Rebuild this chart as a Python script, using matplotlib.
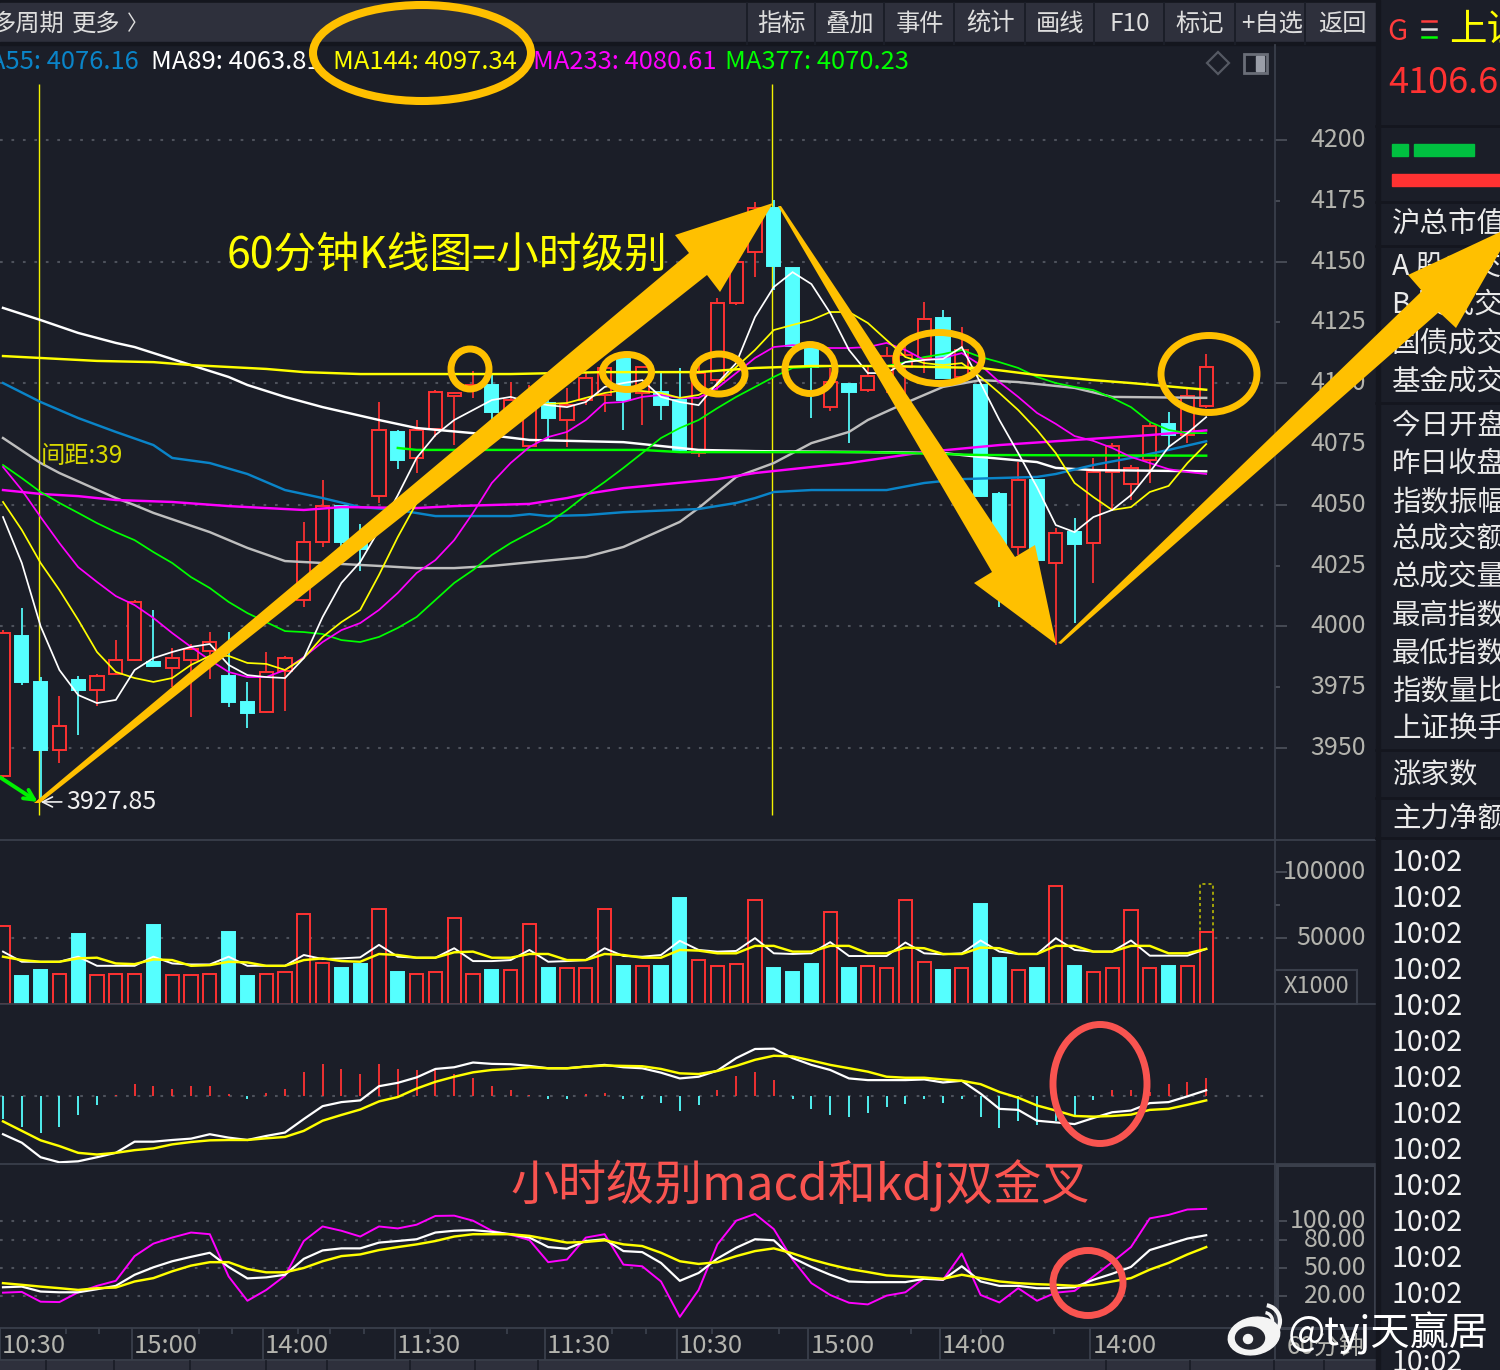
import numpy as np
import matplotlib
matplotlib.use("Agg")
import matplotlib.pyplot as plt
from matplotlib.patches import Ellipse, Polygon, Rectangle, Arc

plt.rcParams['font.family'] = ['Noto Sans CJK SC', 'DejaVu Sans']

# ---- 60-minute candles ----
opens = [3938.5,3996.1,3977.2,3949.2,3978,3973.9,3980.5,3986.2,3985.4,3982.9,3986.2,3989.9,3979.6,3968.9,3964.8,3981.7,
         4010.9,4034.7,4049.5,4035.5,4053.6,4080,4069.3,4081.2,4094.8,4098.5,4099.3,4088.2,4074.2,4091.9,4084.9,4093.1,
         4095.2,4110.4,4096,4096.4,4093.1,4071.3,4101.3,4133,4154,4172.1,4147.4,4114.5,4090.2,4099.7,4097.2,4103.4,
         4106.7,4110.4,4126.8,4102.6,4099.3,4054.5,4032.7,4060.2,4026.1,4038.8,4034.3,4063.5,4058.6,4068.4,4083.2,4078.7,4090.7]
closes = [3997.3,3977.2,3949.2,3959.1,3973.9,3979.6,3986.2,4010.1,3983.7,3987,3990.7,3993.6,3968.9,3964.4,3981.3,3987,
          4034.7,4049.5,4034.7,4031.8,4080.8,4068.4,4080.8,4096.4,4096,4099.3,4088.2,4093.1,4093.9,4085.7,4091,4102.2,
          4106.3,4093.1,4106.7,4091,4072.6,4104.2,4133,4149.9,4172.1,4148.2,4115.3,4106.7,4100.5,4096.4,4103,4111.2,
          4111.6,4126.4,4102.2,4113.7,4053.6,4029.4,4060.2,4027.3,4038.4,4033.9,4063.5,4074.2,4065.2,4082.4,4078.7,4094.8,4106.6]
highs = [3998.5,4007.6,3979.2,3971.4,3979.6,3980.5,3994.4,4010.9,4006.8,3991.1,3992.8,3997.7,3997.7,3977.2,3989.5,3987.9,
         4042.9,4060.2,4049.9,4042.1,4092.3,4080.8,4084.9,4097.2,4096.4,4105,4104.2,4100.5,4099.3,4093.1,4098,4104.6,
         4109.6,4110.4,4106.7,4104.2,4106.3,4107.5,4135,4154.8,4174.5,4175.4,4147.4,4114.5,4106.3,4099.7,4106.7,4114.9,
         4117.8,4133.4,4130.1,4123.1,4100.1,4055.3,4067.6,4060.2,4040.5,4044.6,4069.3,4075.4,4066.4,4083.7,4088.2,4097.6,4112]
lows = [3937.7,3975.9,3927.85,3943.9,3955.4,3967.3,3980,3985.8,3983.3,3975.1,3962.8,3978.4,3966.9,3958.2,3964.4,3965.2,
        4008,4032.7,4032.7,4022.8,4050.8,4064.7,4063.1,4077.9,4074.6,4094,4084.9,4084.9,4073.4,4076.7,4073.8,4091,
        4088.2,4080.8,4082.8,4084.9,4071.7,4069.7,4097.2,4132.2,4143.7,4138.4,4112.4,4085.7,4088.6,4075.4,4096.4,4096,
        4093.1,4104.2,4102.2,4102.2,4053.2,4008,4029.4,4026.5,3992.4,4001.4,4017.9,4047.9,4052,4059,4073.8,4075.4,4089.9]

# ---- moving averages on the price panel ----
ma5 = [4045,4026.1,4000.1,3982.1,3971.8,3968.5,3969.8,3982.1,3987,3989.5,3991.6,3992.8,3984.2,3980,3979.2,3978.8,3987,
       4003.9,4017.9,4026.5,4039.7,4054,4069.3,4078.7,4084.9,4089,4093.1,4094.4,4092.3,4091,4090.2,4092.3,4098.5,4100.1,
       4101.3,4094.4,4092.3,4091,4100.1,4108.3,4127.2,4139.6,4145.7,4140.8,4128.9,4113.7,4104.2,4104.2,4108.7,4109.6,4110,
       4114.9,4100.1,4084.9,4071.3,4057.3,4041.7,4038.8,4045,4047.9,4054,4063.5,4073.8,4079.5,4086.1]
ma10 = [4051.2,4039.7,4026.1,4015,4002.7,3989.5,3981.3,3978.8,3977.2,3978.8,3984.2,3987.9,3987.9,3985,3984.6,3982.1,3987,
        3995.7,4001.8,4006.8,4021.2,4036.8,4050.8,4059,4068.5,4076.7,4084.9,4089,4091,4091.5,4091.9,4094,4096,4097.2,4096.8,
        4096,4094,4095.2,4099.3,4106.7,4113.7,4121.9,4124,4126,4129.3,4129.3,4124.8,4117.8,4110.8,4108.3,4107.5,4108.3,4102.6,
        4096,4089,4080.8,4071.3,4059,4053.2,4047.9,4049.1,4055.3,4057.8,4067.2,4075]
ma20 = [4065.6,4056.1,4045,4034.3,4024.4,4018.3,4012.5,4008.8,4003.5,3997.3,3991.6,3986.2,3981.3,3979.2,3979.2,3982.1,3987.4,
        3993.6,3998.5,4001.4,4006.8,4013.8,4022,4027.3,4035.5,4046.7,4059,4067.2,4073.8,4077.9,4080,4084.9,4091.9,4092.3,
        4094.4,4095.2,4094,4094,4098.1,4104.2,4110.4,4114.9,4115.7,4114.9,4114.5,4114.5,4114.9,4116.6,4113.7,4109.6,4110.4,
        4112.4,4107.5,4100.5,4094.4,4087.8,4083.3,4078.3,4076.3,4073.4,4069.7,4067.2,4064.7,4063.5,4062.7]
ma34 = [4066.4,4061,4055.3,4050.8,4046.7,4042.5,4038.8,4035.5,4030.6,4026.1,4020.3,4015.8,4010.1,4005.5,4001.8,3998.1,3997.7,
        3996.9,3994.4,3993.6,3995.7,3999.4,4003.9,4010.9,4017.9,4023.2,4029.4,4034.3,4038.4,4042.5,4047.9,4054,4059.4,4065.2,
        4071.3,4077.5,4081.6,4084.9,4089.8,4094.4,4098.5,4102.6,4106.3,4106.7,4107.1,4107.1,4107.1,4107.1,4108.7,4110.8,4112,
        4113.7,4110.8,4108.7,4106.3,4102.6,4100.1,4098.5,4097.2,4094,4090.2,4084.1,4080.8,4079.5,4079.5]

ma55_idx = [0,2,4,6,8,9,11,13,15,17,19,21,23,27,28,29,31,33,37,39,40,41,43,47,49,51,55,56,58,60,62,64]
ma55 = [4100.1,4092.3,4085.7,4080,4074.6,4069.3,4067.2,4062.7,4056.1,4052.8,4049.1,4047.9,4045.4,4045.4,4046.2,4045.4,4045.8,
        4047,4048.3,4050.8,4052.8,4055.3,4056.1,4056.1,4059,4060.6,4061.5,4062.7,4066.4,4069.3,4072.6,4076.16]
ma60_idx = [0,2,3,6,7,8,11,13,15,17,20,22,24,26,31,33,36,37,39,41,43,45,46,48,50,52,54,57,59,64]
ma60 = [4077.5,4067.2,4063.1,4052.8,4049.9,4046.7,4038.8,4032.3,4026.9,4026.1,4024.9,4024,4024,4024.9,4028.6,4032.7,4043,
        4048.7,4061.5,4067.2,4075.4,4080,4084.9,4091.9,4098.5,4101.3,4100.5,4098.1,4094.4,4094]
ma89_idx = [0,2,4,6,7,10,12,13,15,17,20,22,25,28,33,37,40,46,50,52,55,56,58,64]
ma89 = [4131,4126,4120.7,4116.6,4114.9,4107.5,4102.6,4099.3,4094.4,4090.2,4084.9,4081.6,4079.5,4076.7,4075.8,4072.6,4072.1,
        4071.7,4071.3,4069.7,4067.6,4065.2,4064.3,4063.81]
ma144_idx = [0,2,5,8,10,14,16,19,27,32,37,40,43,47,52,55,58,60,64]
ma144 = [4111.2,4110.4,4109.2,4108.7,4107.5,4105.9,4104.6,4103.8,4103.8,4104.6,4104.6,4106.3,4107.1,4107.1,4106.3,4103.4,
         4101.3,4100.1,4097.34]
ma233_idx = [0,2,4,6,9,12,16,18,22,24,28,30,31,33,38,40,45,49,53,57,61,64]
ma233 = [4056.1,4054.5,4053.6,4052,4051.2,4049.5,4047.9,4049.1,4048.7,4049.5,4050.4,4052.8,4054.5,4056.9,4060.6,4063.1,4067.2,
         4071.7,4074.6,4076.7,4078.7,4080.61]
ma377_idx = [21,22,34,36,46,52,64]
ma377 = [4073.4,4072.6,4072.6,4071.7,4071.7,4070.5,4070.23]

# ---- volume ----
volume = [58880,21250,25600,23040,52990,21760,23040,23040,60160,21760,21760,23040,54530,21250,23040,24320,68350,30720,27140,
          30210,71680,24060,23040,24320,65280,23040,25600,26110,60670,27140,27390,27390,71680,28670,28930,28670,80130,33540,
          28930,30210,78850,27140,24060,30210,69890,27140,28930,27390,78850,32000,25600,27390,75520,34820,25860,27140,89600,
          28670,24320,27390,71420,27390,28670,28930,54530]
volume_projected = 90880
vol_ma5 = [39680,32000,32000,32000,35840,28930,28930,28930,35840,30720,29950,29950,35840,28930,28930,28930,37120,34050,34560,
           35330,44800,35840,35070,35070,42240,32510,32510,33280,40960,32000,32510,33280,42240,36350,35840,37120,47870,40960,
           39680,40190,49920,38400,37890,38400,46850,36350,36350,36350,46590,38400,37630,38400,48130,39680,37890,37890,49920,
           40960,39680,39680,48130,36610,36610,36610,41730]
vol_ma10 = [35840,33280,32000,32000,34560,35070,30720,30210,33790,33280,28930,29440,32000,31490,28930,28930,33280,34560,32510,
            32000,37890,37120,35070,35070,39170,39680,35070,35070,37890,37890,33280,33280,37890,37120,35070,35070,40960,40450,
            38400,38400,44030,44030,39680,39680,44030,44030,38400,38400,42750,42240,37890,37890,42750,42240,37890,37890,44030,
            44030,39680,39680,44030,44030,38400,38400,41730]

# ---- MACD ----
dif = [-113,-138,-181,-196,-193,-181,-168,-135,-135,-130,-126,-113,-123,-130,-118,-108,-68,-30,-18,-13,29,39,55,80,85,99,95,
       94,89,82,82,87,92,85,82,69,52,57,75,112,139,140,112,92,77,52,47,47,47,49,40,45,7,-38,-41,-73,-78,-83,-65,-48,-43,-21,-18,-1,17]
dea = [-75,-103,-131,-148,-168,-173,-168,-160,-155,-143,-136,-131,-130,-130,-125,-121,-103,-73,-56,-40,-16,-3,22,42,57,70,77,
       80,85,82,82,87,90,89,88,80,67,65,74,89,107,119,117,105,92,82,72,57,54,54,49,45,35,12,-5,-28,-43,-59,-61,-59,-55,-41,-38,-26,-13]
macd_hist = [-68,-91,-108,-91,-56,-26,4,35,29,22,29,29,5,-8,10,22,71,94,81,65,94,81,77,77,65,53,29,17,4,-8,-8,5,10,-8,-8,-21,
             -43,-26,17,59,71,47,-8,-38,-55,-61,-50,-33,-25,-8,-20,-8,-63,-96,-73,-85,-73,-55,-13,17,17,12,35,41,52]

# ---- KDJ ----
kdj_k = [29.4,30.1,24.8,24,24,27.3,30.9,42.8,50.8,57.3,62,66.4,51.2,38.9,40,42.8,59.9,68.9,71.1,71.1,77.3,79,80.9,88.1,90,90.7,
         88.9,86.3,82.7,72.5,70.7,79,80.9,68.2,67.1,55.5,36.3,44.7,60.2,71.8,80.9,79.8,61,51.2,42.8,35.6,34.9,34.9,34.9,38.5,
         37.4,51.9,35.6,30.9,30.9,28.4,28.4,29.4,37.4,43.9,51.2,69.3,75.4,81.6,85.2]
kdj_d = [33.8,32,30.1,28.4,26.5,28.4,29.1,35.6,39.2,46.5,52.6,56.3,56.3,49,45.4,45.4,50.1,57.3,62.8,64.6,69.3,72.5,75.4,79,83.8,
         86.3,86.3,86.3,84.5,80.9,77.3,78,79.8,75.4,73.6,66.4,57.3,54.4,56.3,62.8,68.2,71.1,65.7,59.1,53.7,49,45.7,42.1,41,40,
         38.5,42.8,39.2,35.6,33.8,32.7,32,30.9,32,35.6,39.2,48.3,55.5,64.6,72.5]
kdj_j = [23.6,24.4,13.9,13.5,24,30.9,36.3,62.8,76.2,82.7,88.1,86.3,41,14.9,26.5,41.8,79,94.6,90,83.8,94.6,92.5,96.5,105.9,106.2,
         100.8,90,85.6,80.1,56.3,59.1,82.7,86.3,53.7,51.9,35.6,-2.4,26.5,75.4,100.8,108,91.8,59.1,33.8,21.1,12.8,11,20.4,24,39.2,
         37.4,65.7,21.1,13.1,28.4,14.9,23.6,25.5,41,56.3,72.5,103.3,107,112.8,113.5]

# ---- axis labels ----
price_major = [3950,4000,4050,4100,4150,4200]
price_minor = [3975,4025,4075,4125,4175]
vol_ticks = [50000,100000]
kdj_ticks = [20,50,80,100]
time_labels = ['10:30','15:00','14:00','11:30','11:30','10:30','15:00','14:00','14:00']
time_positions = [0,7,14,21,29,36,43,50,58]
time_minor = [3.35,5.13,10.4,12.2,15.7,17.4,19.2,22.7,26.8,32.4,34.2,37.7,41.3,48.3,52,55.9]
marker_lines = [1.9,40.9]
toolbar_items = ['指标','叠加','事件','统计','画线','F10','标记','+自选','返回']
side_labels = ['沪总市值','A 股成交','B 股成交','国债成交','基金成交','今日开盘','昨日收盘','指数振幅','总成交额','总成交量',
               '最高指数','最低指数','指数量比','上证换手','涨家数','主力净额']
ma_legend = [('MA55: 4076.16','#0A84C8'),('MA89: 4063.81','#FFFFFF'),('MA144: 4097.34','#FFFF00'),
             ('MA233: 4080.61','#FF00FF'),('MA377: 4070.23','#00FF00')]

BG = '#1B1E28'
BAR = '#2E303C'
EDGE = '#3A3F4B'
TICK = '#B4B4AE'
UP = '#FF3232'
DOWN = '#55FFFF'
GRID = '#4E525C'
ORANGE = '#FFC000'
CORAL = '#F95450'
W, H = 1500, 1370
X_LIM = (-0.16, 67.66)

fig = plt.figure(figsize=(15, 13.7), dpi=100, facecolor=BG)


def panel(y_top, y_bottom, ylim):
    ax = fig.add_axes([0, 1 - y_bottom / H, 1275 / W, (y_bottom - y_top) / H])
    ax.set_facecolor('none')
    ax.set_xlim(*X_LIM)
    ax.set_ylim(*ylim)
    ax.set_xticks([])
    for s in ax.spines.values():
        s.set_visible(False)
    return ax


def right_ticks(ax, major, minor=()):
    ax.yaxis.tick_right()
    ax.set_yticks(major)
    ax.set_yticks(list(minor), minor=True)
    ax.tick_params(axis='y', which='major', length=8.6, width=1.2, color=GRID, pad=56.9,
                   labelsize=18, labelcolor=TICK, left=False)
    ax.tick_params(axis='y', which='minor', length=3.6, width=1.2, color=GRID, pad=61.9,
                   labelsize=18, labelcolor=TICK, left=False)
    align_labels(ax)


def align_labels(ax):
    for t in ax.yaxis.get_major_ticks() + ax.yaxis.get_minor_ticks():
        t.label2.set_horizontalalignment('right')
        t.label2.set_verticalalignment('center')


def dotted(ax, levels):
    ax.hlines(levels, X_LIM[0], 67.2, colors=GRID, linewidth=1.5, linestyles=(0, (1.3, 4.2)), zorder=1)


n = np.arange(len(closes))
o, c, h, l = map(np.asarray, (opens, closes, highs, lows))
rising = c >= o
body_low = np.minimum(o, c)
body_height = np.abs(c - o)
bar_colors = np.where(rising, UP, DOWN)
bar_faces = np.where(rising, BG, DOWN)

# price panel
ax_p = panel(45, 840, (3912.2, 4239.1))
dotted(ax_p, price_major)
ax_p.vlines(marker_lines, 3922.5, 4223, colors='#F2F200', linewidth=1.0, zorder=2)
ax_p.vlines(n, l, h, colors=bar_colors, linewidth=1.25, zorder=3)
ax_p.bar(n, body_height, bottom=body_low, width=0.7, color=bar_faces, edgecolor=bar_colors, linewidth=1.4, zorder=4)
thin = dict(linewidth=1.25, solid_joinstyle='miter', zorder=5)
thick = dict(linewidth=1.75, solid_joinstyle='miter', zorder=5)
ax_p.plot(ma60_idx, ma60, color='#BEBEBE', **thick)
ax_p.plot(ma89_idx, ma89, color='#FFFFFF', **thick)
ax_p.plot(ma55_idx, ma55, color='#0A84C8', **thick)
ax_p.plot(ma233_idx, ma233, color='#FF00FF', **thick)
ax_p.plot(ma377_idx, ma377, color='#00FF00', **thick)
ax_p.plot(n, ma34, color='#00FF00', **thin)
ax_p.plot(n, ma20, color='#FF00FF', **thin)
ax_p.plot(n, ma10, color='#FFFF00', **thin)
ax_p.plot(n, ma5, color='#FFFFFF', **thin)
ax_p.plot(ma144_idx, ma144, color='#FFFF00', **thick)
right_ticks(ax_p, price_major, price_minor)
ax_p.set_yticks(price_minor, [str(v) for v in price_minor], minor=True)
align_labels(ax_p)

ax_p.annotate('3927.85', xy=(2.0, 3927.85), xytext=(3.35, 3927.85), color='#F0F0F0', fontsize=18, va='center',
              arrowprops=dict(arrowstyle='->', color='#F0F0F0', lw=1.2, shrinkA=1, shrinkB=0), zorder=8)
ax_p.annotate('', xy=(1.85, 3927.85), xytext=(-0.16, 3938),
              arrowprops=dict(arrowstyle='->', color='#00F000', lw=2.8, mutation_scale=18, shrinkA=0, shrinkB=0), zorder=8)
ax_p.text(2.0, 4070, '间距:39', color='#D8D800', fontsize=17.5, va='center', zorder=8)

# volume panel
ax_v = panel(840, 1004, (0, 124242))
dotted(ax_v, [50000])
ax_v.bar(n, volume, width=0.7, color=bar_faces, edgecolor=bar_colors, linewidth=1.4, zorder=3)
ax_v.bar(n[-1:], volume_projected, width=0.7, facecolor='none', edgecolor='#C8C800', linewidth=1.1,
         linestyle=(0, (2, 2)), zorder=3)
ax_v.bar(n[-1:], volume[-1], width=0.7, facecolor=BG, edgecolor=UP, linewidth=1.4, zorder=3.5)
ax_v.plot(n, vol_ma5, color='#FFFFFF', linewidth=1.4, zorder=5)
ax_v.plot(n, vol_ma10, color='#FFFF00', linewidth=1.75, zorder=5)
right_ticks(ax_v, vol_ticks, [75000])
ax_v.yaxis.set_major_formatter(lambda v, _: f'{int(v)}')
ax_v.tick_params(axis='y', which='minor', labelright=False)
align_labels(ax_v)

# MACD panel
ax_m = panel(1004, 1164, (-201, 272))
dotted(ax_m, [0])
hist = np.asarray(macd_hist)
ax_m.vlines(n, 0, hist, colors=np.where(hist >= 0, UP, DOWN), linewidth=1.3, zorder=3)
ax_m.plot(n, dif, color='#FFFFFF', linewidth=1.6, zorder=5)
ax_m.plot(n, dea, color='#FFFF00', linewidth=1.75, zorder=5)
ax_m.set_yticks([])

# KDJ panel
ax_k = panel(1164, 1328, (-14.3, 161.6))
dotted(ax_k, kdj_ticks)
ax_k.plot(n, kdj_j, color='#FF00FF', linewidth=1.4, zorder=4)
ax_k.plot(n, kdj_k, color='#FFFFFF', linewidth=1.6, zorder=5)
ax_k.plot(n, kdj_d, color='#FFFF00', linewidth=1.75, zorder=5)
right_ticks(ax_k, kdj_ticks)
ax_k.yaxis.set_major_formatter(lambda v, _: f'{v:.2f}')
align_labels(ax_k)

# time axis
ax_t = panel(1328, 1360, (0, 1))
ax_t.set_yticks([])
t_pos = np.asarray(time_positions) - 0.16
ax_t.vlines(t_pos, 0, 1, colors=EDGE, linewidth=1.3)
ax_t.vlines(time_minor, 0.8, 1, colors=EDGE, linewidth=1.3)
for x, label in zip(t_pos, time_labels):
    ax_t.text(x + 0.1, 0.44, label, color=TICK, fontsize=18.5, va='center', ha='left')

# window chrome and annotations, positioned in pixels
ov = fig.add_axes([0, 0, 1, 1], zorder=20)
ov.set_xlim(0, W)
ov.set_ylim(H, 0)
ov.axis('off')
ov.patch.set_alpha(0)

ov.add_patch(Rectangle((0, 0), 1376, 3, color='#14161E', zorder=1))
ov.add_patch(Rectangle((0, 3), 1376, 39, color=BAR, zorder=1))
ov.add_patch(Rectangle((0, 42), 1376, 3, color='#14161E', zorder=1))
for x in [747, 815, 884, 954, 1025, 1094, 1164, 1235, 1305]:
    ov.plot([x, x], [3, 44], color='#1B1E28', lw=1.4, zorder=2)
for x, label in zip([782, 850, 920, 990, 1060, 1130, 1200, 1272, 1342], toolbar_items):
    ov.text(x, 24, label, color='#DEDEDE', fontsize=17.5, ha='center', va='center', zorder=3)
ov.text(-9, 24, '多周期', color='#DEDEDE', fontsize=17.5, va='center', zorder=3)
ov.text(72, 24, '更多', color='#DEDEDE', fontsize=17.5, va='center', zorder=3)
ov.text(127, 24, '〉', color='#DEDEDE', fontsize=15, va='center', zorder=3)

for x0, (label, col), ha in zip([139, 151, 333, 533, 725], ma_legend, ['right', 'left', 'left', 'left', 'left']):
    ov.text(x0, 62, label, color=col, fontsize=18.4, ha=ha, va='center', zorder=3)
ov.add_patch(Polygon([(1218, 52), (1229, 63), (1218, 74), (1207, 63)], fill=False, ec='#555963', lw=1.6, zorder=3))
ov.add_patch(Rectangle((1244, 54), 23, 19, fill=False, ec='#6A6E78', lw=2, zorder=3))
ov.add_patch(Rectangle((1256, 56), 8, 15, color='#9A9EA8', zorder=3))

# panel borders
for y in [840, 1004, 1164, 1328, 1360]:
    ov.plot([0, 1376], [y, y], color=EDGE, lw=1.3, zorder=2)
ov.plot([1275, 1275], [45, 1360], color=EDGE, lw=1.3, zorder=2)
ov.add_patch(Rectangle((1275, 970), 82, 34, fill=False, ec=EDGE, lw=1.5, zorder=2))
ov.text(1316, 986, 'X1000', color=TICK, fontsize=17, ha='center', va='center', zorder=3)
ov.add_patch(Rectangle((1277, 1165), 98, 163, fill=False, ec=EDGE, lw=2.2, zorder=2))
ov.add_patch(Rectangle((0, 1361), 1376, 9, color=BAR, zorder=1))
for x in [46, 114, 190, 266, 327, 410, 475, 538, 1106, 1190, 1274, 1324]:
    ov.plot([x, x], [1361, 1370], color=BG, lw=1.3, zorder=2)

# right-hand information column
ov.add_patch(Rectangle((1376, 0), 4, H, color='#14161E', zorder=2))
for y in [126, 202, 246, 403, 750, 798, 838]:
    ov.plot([1376, 1500], [y, y], color='#14161E', lw=2, zorder=2)
ov.text(1387, 32, 'G', color='#FF3C3C', fontsize=21, va='center', zorder=3)
for y, col in zip([21, 29, 37], ['#FF3C3C', '#DDDDDD', '#00FF00']):
    ov.plot([1422, 1436], [y, y], color=col, lw=1.8, zorder=3)
ov.text(1449, 30, '上证', color='#FFFF00', fontsize=27, va='center', zorder=3)
ov.text(1388, 83, '4106.6', color='#FF3232', fontsize=26, fontweight='medium', va='center', zorder=3)
ov.add_patch(Rectangle((1392, 144), 16, 12, color='#00C040', zorder=3))
ov.add_patch(Rectangle((1414, 144), 60, 12, color='#00C040', zorder=3))
ov.add_patch(Rectangle((1392, 174), 108, 12, color='#FF3232', zorder=3))
for y, label in zip([224, 267, 305, 344, 382, 426, 464, 502, 539, 577, 615, 653, 691, 729, 774, 819], side_labels):
    ov.text(1392, y, label, color='#EAEAEA', fontsize=20.5, va='center', zorder=3)
for y in list(range(863, 1296, 36)) + [1363]:
    ov.text(1392, y, '10:02', color='#F2F2F2', fontsize=20.5, va='center', zorder=3)

# hand-drawn arrows
arrows = [
    [(34, 803), (689, 253), (675, 235), (773, 203), (720, 292), (707, 275), (40, 803)],
    [(778, 206), (992, 572), (974, 583), (1056, 644), (1035, 545), (1015, 557), (781, 206)],
    [(1058, 643), (1422, 291), (1408, 275), (1515, 225), (1456, 328), (1439, 312), (1061, 644)],
]
for pts in arrows:
    ov.add_patch(Polygon(pts, closed=True, color=ORANGE, lw=0, zorder=10))

# hand-drawn rings: centre x, centre y, width, height
for cx, cy, w, hgt, weight in [(422, 53, 218, 96, 5.8), (470, 369, 38, 40, 5), (627, 372, 49, 35, 5),
                               (719, 374, 52, 40, 5), (810, 369, 50, 49, 5), (939, 358, 86, 51, 5),
                               (1209, 374, 96, 77, 5)]:
    ov.add_patch(Ellipse((cx, cy), w, hgt, fill=False, ec=ORANGE, lw=weight, zorder=11))
for cx, cy, w, hgt in [(1100, 1084, 94, 119), (1088, 1283, 70, 65)]:
    ov.add_patch(Ellipse((cx, cy), w, hgt, fill=False, ec=CORAL, lw=5, zorder=11))

ov.text(227, 255, '60分钟K线图=小时级别', color='#FFFF00', fontsize=30.8, va='center', zorder=12)
ov.text(510, 1186, '小时级别macd和kdj双金叉', color=CORAL, fontsize=34.6, va='center', zorder=12)

# site watermark
ov.text(1287, 1348, '60分钟', color=TICK, fontsize=18, va='center', zorder=13)
ov.text(1288, 1333, '@tyj天赢居', color='#FFFFFF', fontsize=28.3, va='center', zorder=14)
ov.add_patch(Ellipse((1254, 1336), 52, 37, angle=-12, color='#F4F4F4', zorder=14))
ov.add_patch(Ellipse((1250, 1338), 29, 22, color='#23252E', zorder=15))
ov.add_patch(Ellipse((1248, 1339), 9, 9, color='#F4F4F4', zorder=16))
ov.add_patch(Arc((1264, 1321), 32, 32, theta1=-80, theta2=30, color='#F4F4F4', lw=3, zorder=14))
ov.add_patch(Arc((1264, 1321), 17, 17, theta1=-80, theta2=30, color='#F4F4F4', lw=2.4, zorder=14))

fig.savefig('out.png', dpi=100, facecolor=BG)
